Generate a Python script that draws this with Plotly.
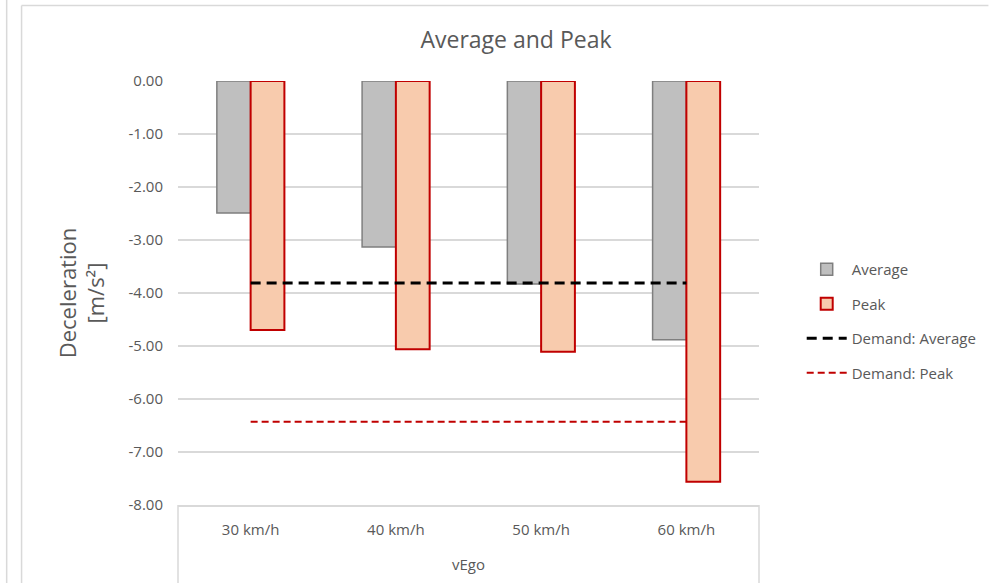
import plotly.graph_objects as go

categories = ["30 km/h", "40 km/h", "50 km/h", "60 km/h"]
average = [-2.49, -3.13, -3.83, -4.88]
peak = [-4.70, -5.06, -5.11, -7.56]
demand_average = [-3.81, -3.81, -3.81, -3.81]
demand_peak = [-6.43, -6.43, -6.43, -6.43]
tick_values = [0, -1, -2, -3, -4, -5, -6, -7, -8]
tick_labels = ["0.00", "-1.00", "-2.00", "-3.00", "-4.00", "-5.00", "-6.00", "-7.00", "-8.00"]

FONT = "Open Sans"
TXT = "#595959"
GRID = "#d9d9d9"

fig = go.Figure()
fig.add_trace(go.Bar(
    x=categories, y=average, name="Average",
    marker=dict(color="#bfbfbf", line=dict(color="#7f7f7f", width=1.5)),
    legendgroup="a",
))
fig.add_trace(go.Bar(
    x=categories, y=peak, name="Peak",
    marker=dict(color="#f8cbad", line=dict(color="#c00000", width=2)),
    legendgroup="b",
))
fig.add_trace(go.Scatter(
    x=categories, y=demand_average, name="Demand: Average", mode="lines",
    line=dict(color="black", width=3, dash="10px,6px"),
    legendgroup="c",
))
fig.add_trace(go.Scatter(
    x=categories, y=demand_peak, name="Demand: Peak", mode="lines",
    line=dict(color="#c00000", width=2, dash="7px,4px"),
    legendgroup="d",
))

W, H = 994, 583
L, R, T, B = 178, 231, 81, 78
pw, ph = W - L - R, H - T - B

def px_x(p):
    return (p - L) / pw

def px_y(p):
    return (H - B - p) / ph

line_style = dict(color=GRID, width=1.5)
shapes = [
    # category box sides
    dict(type="line", xref="paper", yref="paper", x0=0, x1=0, y0=0, y1=px_y(H), line=line_style),
    dict(type="line", xref="paper", yref="paper", x0=1, x1=1, y0=0, y1=px_y(H), line=line_style),
    # outer frames
    dict(type="line", xref="paper", yref="paper", x0=px_x(5.5), x1=px_x(5.5), y0=px_y(0), y1=px_y(H), line=line_style),
    dict(type="line", xref="paper", yref="paper", x0=px_x(20.5), x1=px_x(20.5), y0=px_y(5.5), y1=px_y(H), line=line_style),
    dict(type="line", xref="paper", yref="paper", x0=px_x(20.5), x1=px_x(W), y0=px_y(5.5), y1=px_y(5.5), line=line_style),
]

fig.update_layout(
    width=W, height=H,
    margin=dict(l=L, r=R, t=T, b=B),
    paper_bgcolor="white", plot_bgcolor="white",
    font=dict(family=FONT, color=TXT, size=15),
    title=dict(text="Average and Peak", x=516 / W, xref="container", xanchor="center",
               y=1 - 40 / H, yref="container", yanchor="middle",
               font=dict(size=23, color=TXT, family=FONT)),
    barmode="group", bargap=0.535, bargroupgap=0,
    showlegend=True,
    legend=dict(x=px_x(806), xanchor="left", y=px_y(253), yanchor="top",
                font=dict(size=15, color=TXT, family=FONT), tracegroupgap=12,
                itemwidth=40, bgcolor="rgba(0,0,0,0)"),
    shapes=shapes,
)
fig.update_xaxes(
    type="category", showgrid=False, showline=True, linecolor=GRID, linewidth=1.5,
    ticks="", ticklabelstandoff=10, tickfont=dict(size=15, color=TXT),
    title=dict(text="vEgo", standoff=22, font=dict(size=15, color=TXT)),
    zeroline=False,
)
fig.update_yaxes(
    range=[-8, 0], tickvals=tick_values, ticktext=tick_labels,
    showgrid=True, gridcolor=GRID, gridwidth=1.5, zeroline=False, showline=False,
    ticks="", ticklabelstandoff=14, tickfont=dict(size=15, color=TXT),
    title=dict(text="Deceleration<br>[m/s²]", standoff=17, font=dict(size=22, color=TXT)),
)

fig.write_html(
    "out.html",
    config={"displayModeBar": False},
    post_script="document.body.style.margin='0';document.body.style.overflow='hidden';",
)
